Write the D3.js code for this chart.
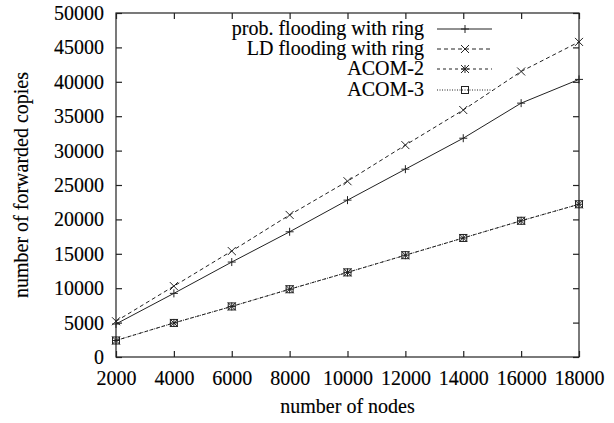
<!DOCTYPE html>
<html><head><meta charset="utf-8">
<script src="https://cdn.jsdelivr.net/npm/d3@7"></script>
<style>
body{margin:0;background:#fff;}
text{font-family:"Liberation Serif","Times New Roman",serif;fill:#000;stroke:#000;stroke-width:0.15;}
</style></head>
<body>
<svg id="c" width="614" height="423"></svg>
<script>
const nodes = [2000,4000,6000,8000,10000,12000,14000,16000,18000];
const probFlooding = [4800,9250,13800,18200,22800,27300,31800,36900,40350];
const ldFlooding = [5200,10300,15400,20650,25550,30800,35900,41500,45800];
const acom2 = [2400,4950,7350,9850,12300,14800,17300,19800,22200];
const acom3 = [2400,4950,7350,9850,12300,14800,17300,19800,22200];
const xTicks = [2000,4000,6000,8000,10000,12000,14000,16000,18000];
const yTicks = [0,5000,10000,15000,20000,25000,30000,35000,40000,45000,50000];
const seriesNames = ["prob. flooding with ring","LD flooding with ring","ACOM-2","ACOM-3"];

const series = [
  {name:seriesNames[0], values:probFlooding, dash:null, marker:"plus"},
  {name:seriesNames[1], values:ldFlooding, dash:"4,3", marker:"cross"},
  {name:seriesNames[2], values:acom2, dash:"3,3", marker:"star"},
  {name:seriesNames[3], values:acom3, dash:"1,1.5", marker:"square"}
];

const svg = d3.select("#c");
const L=116, R=579, T=13, B=357;
const x = d3.scaleLinear().domain([2000,18000]).range([L,R]);
const y = d3.scaleLinear().domain([0,50000]).range([B,T]);
const col = "#222";

svg.append("rect").attr("x",L).attr("y",T).attr("width",R-L).attr("height",B-T)
  .attr("fill","none").attr("stroke",col).attr("stroke-width",1.2);

const tl = 6;
const gx = svg.append("g").attr("transform",`translate(0,${B})`)
  .call(d3.axisBottom(x).tickValues(xTicks).tickSizeInner(-tl).tickSizeOuter(0).tickPadding(14).tickFormat(d3.format("d")));
const gxt = svg.append("g").attr("transform",`translate(0,${T})`)
  .call(d3.axisTop(x).tickValues(xTicks).tickSizeInner(-tl).tickSizeOuter(0).tickFormat(""));
const gy = svg.append("g").attr("transform",`translate(${L},0)`)
  .call(d3.axisLeft(y).tickValues(yTicks).tickSizeInner(-tl).tickSizeOuter(0).tickPadding(12).tickFormat(d3.format("d")));
const gyr = svg.append("g").attr("transform",`translate(${R},0)`)
  .call(d3.axisRight(y).tickValues(yTicks).tickSizeInner(-tl).tickSizeOuter(0).tickFormat(""));
[gx,gxt,gy,gyr].forEach(g=>{
  g.select(".domain").remove();
  g.selectAll("line").attr("stroke",col).attr("stroke-width",1.2);
  g.selectAll("text").attr("font-size",20);
});

svg.append("text").attr("x",(L+R)/2).attr("y",413).attr("text-anchor","middle").attr("font-size",20).text("number of nodes");
svg.append("text").attr("transform",`translate(28,${(T+B)/2}) rotate(-90)`).attr("text-anchor","middle").attr("font-size",20).text("number of forwarded copies");

function marker(g, type, cx, cy){
  const s=4;
  const add = (x1,y1,x2,y2)=>g.append("line").attr("x1",x1).attr("y1",y1).attr("x2",x2).attr("y2",y2).attr("stroke",col).attr("stroke-width",1);
  if(type==="plus"||type==="star"){add(cx-s,cy,cx+s,cy);add(cx,cy-s,cx,cy+s);}
  if(type==="cross"||type==="star"){add(cx-s,cy-s,cx+s,cy+s);add(cx-s,cy+s,cx+s,cy-s);}
  if(type==="square"){g.append("rect").attr("x",cx-3.5).attr("y",cy-3.5).attr("width",7).attr("height",7).attr("fill","none").attr("stroke",col).attr("stroke-width",1);}
}

const line = d3.line().x((d,i)=>x(nodes[i])).y(d=>y(d));
series.forEach(s=>{
  const g = svg.append("g");
  const p = g.append("path").attr("d",line(s.values)).attr("fill","none").attr("stroke",col).attr("stroke-width",1);
  if(s.dash) p.attr("stroke-dasharray",s.dash);
  s.values.forEach((v,i)=>marker(g,s.marker,x(nodes[i]),y(v)));
});

const ly = [29,49,69,90];
series.forEach((s,i)=>{
  const g = svg.append("g");
  g.append("text").attr("x",424).attr("y",ly[i]+6).attr("text-anchor","end").attr("font-size",20).text(s.name);
  const l = g.append("line").attr("x1",437).attr("x2",492).attr("y1",ly[i]).attr("y2",ly[i]).attr("stroke",col).attr("stroke-width",1);
  if(s.dash) l.attr("stroke-dasharray",s.dash);
  marker(g,s.marker,465,ly[i]);
});
</script>
</body></html>
